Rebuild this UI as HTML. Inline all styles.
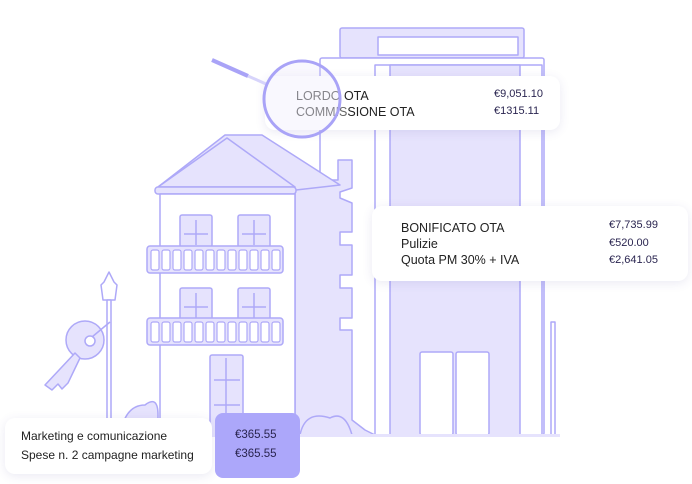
<!DOCTYPE html>
<html><head><meta charset="utf-8"><style>
body{margin:0;width:692px;height:484px;background:#fff;overflow:hidden;position:relative;font-family:"Liberation Sans",sans-serif}
.card{position:absolute;background:#fff;border-radius:10px;box-shadow:0 2px 10px rgba(80,70,160,.12);color:#222;font-size:12.5px}
.r{position:absolute;white-space:nowrap}
.v{color:#2a2550;font-size:11px}
</style></head><body>
<svg width="692" height="484" style="position:absolute;left:0;top:0">
<g stroke="#aea9f8" stroke-width="1.5" fill="#e6e3fd" stroke-linejoin="round">
<!-- right building -->
<rect x="340" y="28" width="184" height="30" rx="2"/>
<rect x="378" y="37" width="140" height="18" fill="#fff"/>
<rect x="320" y="58" width="224" height="377" rx="2" fill="#fff"/>
<rect x="375" y="65" width="167" height="370" fill="#fff"/>
<rect x="390" y="65" width="130" height="370"/>
<rect x="420" y="352" width="33" height="83" fill="#fff" rx="2"/>
<rect x="456" y="352" width="33" height="83" fill="#fff" rx="2"/>
<rect x="551" y="322" width="4" height="113" fill="#fff"/>
<!-- side tower -->
<path d="M295 180 L338 180 L338 160 L352 160 L352 188 L340 192 L340 198 L352 203 L352 232 L340 232 L340 245 L352 245 L352 275 L340 275 L340 288 L352 288 L352 318 L340 318 L340 330 L352 330 L352 420 L365 430 L375 435 L295 435Z"/>
<!-- roof -->
<path d="M158 187 L225 135 L262 135 L340 185 L296 190 Z"/>
<path d="M158 187 L227 138 L295 187 Z" fill="#e6e3fd"/>
<rect x="155" y="187" width="141" height="7" rx="3"/>
<rect x="160" y="194" width="135" height="241" fill="#fff"/>
<!-- windows -->
<rect x="180" y="215" width="32" height="32" rx="2"/>
<rect x="238" y="215" width="32" height="32" rx="2"/>
<rect x="180" y="288" width="32" height="32" rx="2"/>
<rect x="238" y="288" width="32" height="32" rx="2"/>
<path d="M196 220V245M184 234H208M254 220V245M242 234H266M196 293V318M184 307H208M254 293V318M242 307H266" fill="none"/>
<rect x="147" y="246" width="136" height="27" rx="3"/>
<rect x="147" y="318" width="136" height="27" rx="3"/>
<rect x="210" y="355" width="33" height="80" rx="2"/>
<path d="M226 358V432M214 380H240M214 405H240" fill="none"/>
<!-- bushes -->
<path d="M120 435 Q125 405 145 405 Q158 395 158 415 L158 435Z"/>
<path d="M300 435 Q305 410 330 418 Q345 410 352 435Z"/>
<!-- lamp -->
<path d="M109 272 L104 282 L101 285 L103 300 L115 300 L117 285 L114 282Z" fill="#fff"/>
<rect x="107" y="300" width="4" height="120" fill="#fff"/>
<path d="M100 435 L104 420 L114 420 L118 435Z" fill="#fff"/>
<!-- key -->
<circle cx="85" cy="340" r="19"/>
<circle cx="90" cy="341" r="5" fill="#fff"/>
<path d="M75 353 L45 385 L52 390 L58 384 L62 389 L68 383 L80 358Z"/>
<path d="M92 337 L110 322" fill="none"/>
</g>
<g fill="#fff" stroke="#aea9f8" stroke-width="1.2">
<rect x="151" y="250" width="8" height="20" rx="2"/><rect x="162" y="250" width="8" height="20" rx="2"/><rect x="173" y="250" width="8" height="20" rx="2"/><rect x="184" y="250" width="8" height="20" rx="2"/><rect x="195" y="250" width="8" height="20" rx="2"/><rect x="206" y="250" width="8" height="20" rx="2"/><rect x="217" y="250" width="8" height="20" rx="2"/><rect x="228" y="250" width="8" height="20" rx="2"/><rect x="239" y="250" width="8" height="20" rx="2"/><rect x="250" y="250" width="8" height="20" rx="2"/><rect x="261" y="250" width="8" height="20" rx="2"/><rect x="272" y="250" width="8" height="20" rx="2"/>
<rect x="151" y="322" width="8" height="20" rx="2"/><rect x="162" y="322" width="8" height="20" rx="2"/><rect x="173" y="322" width="8" height="20" rx="2"/><rect x="184" y="322" width="8" height="20" rx="2"/><rect x="195" y="322" width="8" height="20" rx="2"/><rect x="206" y="322" width="8" height="20" rx="2"/><rect x="217" y="322" width="8" height="20" rx="2"/><rect x="228" y="322" width="8" height="20" rx="2"/><rect x="239" y="322" width="8" height="20" rx="2"/><rect x="250" y="322" width="8" height="20" rx="2"/><rect x="261" y="322" width="8" height="20" rx="2"/><rect x="272" y="322" width="8" height="20" rx="2"/>
</g>
<rect x="95" y="434" width="465" height="3" fill="#e6e3fd"/>
</svg>
<div class="card" style="left:265px;top:76px;width:295px;height:54px">
<div class="r" style="left:31px;top:13px;color:#666">LORDO <span style="color:#222">OTA</span></div>
<div class="r" style="left:31px;top:29px;color:#666">COMMIS<span style="color:#222">SIONE OTA</span></div>
<div class="r v" style="left:229px;top:12px">€9,051.10</div>
<div class="r v" style="left:229px;top:29px">€1315.11</div>
</div>
<svg width="692" height="484" style="position:absolute;left:0;top:0">
<line x1="212" y1="60" x2="248" y2="76" stroke="#a9a3f7" stroke-width="4"/>
<line x1="248" y1="76" x2="266" y2="84" stroke="#d7d4fb" stroke-width="3"/>
<circle cx="302" cy="99" r="38" fill="rgba(230,227,253,0.25)" stroke="#a9a3f7" stroke-width="3"/>
</svg>
<div class="card" style="left:372px;top:206px;width:316px;height:75px">
<div class="r" style="left:29px;top:15px">BONIFICATO OTA</div>
<div class="r" style="left:29px;top:31px">Pulizie</div>
<div class="r" style="left:29px;top:47px">Quota PM 30% + IVA</div>
<div class="r v" style="left:237px;top:13px">€7,735.99</div>
<div class="r v" style="left:237px;top:31px">€520.00</div>
<div class="r v" style="left:237px;top:48px">€2,641.05</div>
</div>
<div class="card" style="left:5px;top:418px;width:207px;height:56px;font-size:12px">
<div class="r" style="left:16px;top:11px">Marketing e comunicazione</div>
<div class="r" style="left:16px;top:30px">Spese n. 2 campagne marketing</div>
</div>
<div style="position:absolute;left:215px;top:413px;width:85px;height:65px;background:#aca7fa;border-radius:8px;font-size:11.5px;color:#2a2550">
<div class="r" style="left:20px;top:16px">€365.55</div>
<div class="r" style="left:20px;top:35px">€365.55</div>
</div>
</body></html>
